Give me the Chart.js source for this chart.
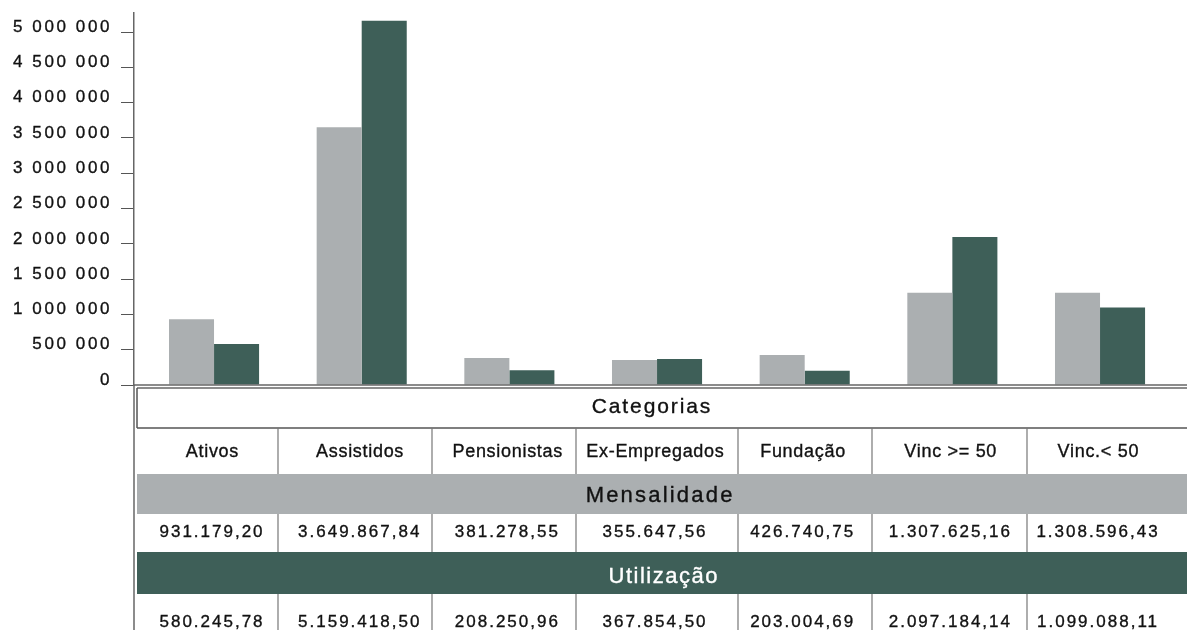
<!DOCTYPE html>
<html>
<head>
<meta charset="utf-8">
<script src="https://cdn.jsdelivr.net/npm/chart.js@4.4.1/dist/chart.umd.min.js"></script>
<style>
  html, body { margin: 0; padding: 0; background: #fff; }
  #wrap { width: 1187px; height: 630px; position: relative; }
</style>
</head>
<body>
<div id="wrap"><canvas id="myChart"></canvas></div>
<script>
var categories = ['Ativos', 'Assistidos', 'Pensionistas', 'Ex-Empregados', 'Fundação', 'Vinc >= 50', 'Vinc.< 50'];
var mensalidade = [931179.20, 3649867.84, 381278.55, 355647.56, 426740.75, 1307625.16, 1308596.43];
var utilizacao = [580245.78, 5159418.50, 208250.96, 367854.50, 203004.69, 2097184.14, 1099088.11];
var seriesNames = ['Mensalidade', 'Utilização'];
var tableTitle = 'Categorias';
var yTicks = [0, 500000, 1000000, 1500000, 2000000, 2500000, 3000000, 3500000, 4000000, 4500000, 5000000];

var grayColor = '#abafb1';
var greenColor = '#3e5f58';
var FONT = "'Liberation Sans', Arial, Helvetica, sans-serif";

function spaced(v) {
  return String(v).replace(/\B(?=(\d{3})+(?!\d))/g, ' ');
}
function brNumber(v) {
  var parts = v.toFixed(2).split('.');
  return parts[0].replace(/\B(?=(\d{3})+(?!\d))/g, '.') + ',' + parts[1];
}

// column separator lines of the table (pixels)
var colLines = [278, 432, 576, 738, 872, 1027];

const tablePlugin = {
  id: 'tablePlugin',
  beforeDraw(chart) {
    chart.ctx.letterSpacing = '2.6px';
  },
  afterDraw(chart) {
    const ctx = chart.ctx, xs = chart.scales.x, a = chart.chartArea;
    const L = 137, R = chart.width, B = chart.height;
    ctx.save();
    ctx.letterSpacing = '0px';

    // coloured bands
    ctx.fillStyle = grayColor;
    ctx.fillRect(L, 474, R - L, 40);
    ctx.fillStyle = greenColor;
    ctx.fillRect(L, 552, R - L, 42);

    function line(x1, y1, x2, y2, color, w) {
      ctx.beginPath();
      ctx.strokeStyle = color;
      ctx.lineWidth = w;
      ctx.moveTo(x1, y1);
      ctx.lineTo(x2, y2);
      ctx.stroke();
    }
    // zero line + axis continued down
    line(a.left, a.bottom, R, a.bottom, '#666', 1.5);
    line(a.left, a.bottom, a.left, B, '#666', 1.5);
    // categorias box
    line(L, 388, R, 388, '#666', 1.5);
    line(L, 428, R, 428, '#555', 1.5);
    line(L, 388, L, 428, '#555', 1.5);
    // separators
    colLines.forEach(function(x) {
      line(x, 428, x, 474, '#777', 1.2);
      line(x, 514, x, 552, '#777', 1.2);
      line(x, 594, x, B, '#777', 1.2);
    });

    function text(str, x, y, size, sp, color) {
      ctx.font = size + 'px ' + FONT;
      ctx.letterSpacing = sp + 'px';
      ctx.fillStyle = color;
      ctx.strokeStyle = color;
      ctx.lineWidth = 0.35;
      ctx.textAlign = 'center';
      ctx.textBaseline = 'alphabetic';
      ctx.strokeText(str, x + sp / 2, y);
      ctx.fillText(str, x + sp / 2, y);
    }
    const mid = (L + R) / 2;
    text(tableTitle, mid - 11, 413, 21, 1.9, '#111');
    text(seriesNames[0], mid - 3, 502, 22, 2.2, '#111');
    text(seriesNames[1], mid + 1, 583, 22, 1.5, '#ffffff');
    categories.forEach(function(c, i) {
      const x = xs.getPixelForValue(i);
      text(c, x - 2, 457, 18, 0.7, '#111');
      text(brNumber(mensalidade[i]), x - 3, 537, 17, 2, '#111');
      text(brNumber(utilizacao[i]), x - 3, 627, 17, 2, '#111');
    });
    ctx.restore();
  }
};

Chart.defaults.font.family = FONT;

new Chart(document.getElementById('myChart'), {
  type: 'bar',
  data: {
    datasets: [{
      label: seriesNames[0],
      data: mensalidade.map(function(v, i) { return {x: i, y: v}; }),
      backgroundColor: grayColor,
      borderWidth: 0,
      barPercentage: 1,
      categoryPercentage: 0.61
    }, {
      label: seriesNames[1],
      data: utilizacao.map(function(v, i) { return {x: i, y: v}; }),
      backgroundColor: greenColor,
      borderWidth: 0,
      barPercentage: 1,
      categoryPercentage: 0.61
    }]
  },
  options: {
    responsive: true,
    maintainAspectRatio: false,
    animation: false,
    layout: { padding: { top: 13, bottom: 245, left: 0, right: 0 } },
    plugins: {
      legend: { display: false },
      tooltip: { enabled: false }
    },
    scales: {
      x: {
        type: 'linear',
        display: false,
        offset: false,
        grid: { offset: false },
        min: -0.542,
        max: 6.589,
        afterBuildTicks: function(s) {
          s.ticks = categories.map(function(c, i) { return {value: i}; });
        }
      },
      y: {
        min: 0,
        max: 5270000,
        afterBuildTicks: function(s) {
          s.ticks = yTicks.map(function(v) { return {value: v}; });
        },
        afterFit: function(s) {
          s.width = 134;
          s.paddingTop = 0;
          s.paddingBottom = 0;
        },
        border: { color: '#666', width: 1.5 },
        grid: { drawOnChartArea: false, tickLength: 13, color: '#555', tickWidth: 1 },
        ticks: {
          padding: 9,
          labelOffset: -5,
          color: '#111',
          textStrokeColor: '#111',
          textStrokeWidth: 0.35,
          font: { size: 17 },
          callback: function(v) { return spaced(v); }
        }
      }
    }
  },
  plugins: [tablePlugin]
});
</script>
</body>
</html>
